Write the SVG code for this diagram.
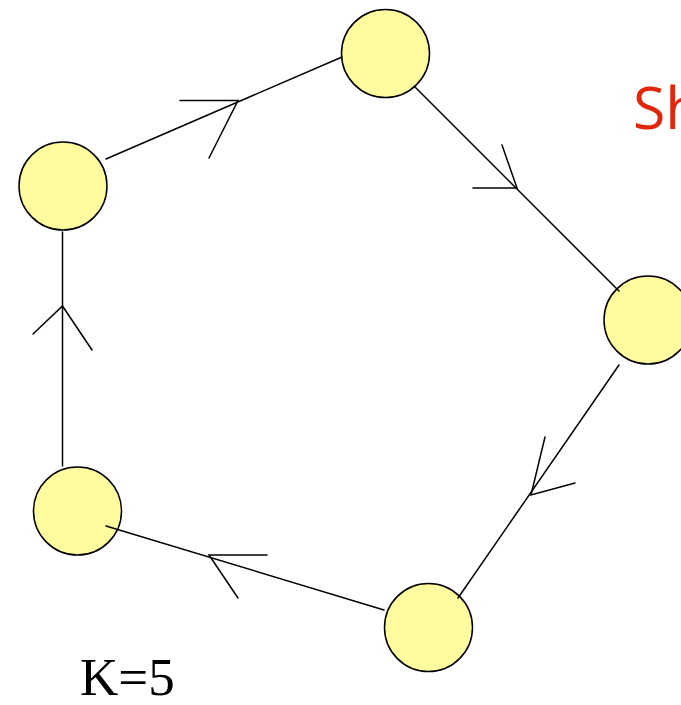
<svg xmlns="http://www.w3.org/2000/svg" width="681" height="705" viewBox="0 0 681 705">
  <style>
    .node { fill: #FFFB9F; stroke: #000; stroke-width: 1.5; }
    .edge { fill: none; stroke: #000; stroke-width: 1.5; stroke-linecap: round; stroke-linejoin: miter; }
    .title { font-family: "Open Sans", "Liberation Sans", sans-serif; font-size: 59px; fill: #E3260B; }
    .label { font-family: "Liberation Serif", "Times New Roman", serif; font-size: 53px; fill: #000; }
  </style>
  <rect width="681" height="705" fill="#fff"/>

  <!-- ring of five nodes -->
  <g id="node-top"><circle class="node" cx="385.5" cy="53.5" r="44"/></g>
  <g id="node-left"><circle class="node" cx="63" cy="186" r="44"/></g>
  <g id="node-right"><circle class="node" cx="648" cy="320" r="44"/></g>
  <g id="node-bottom-right"><circle class="node" cx="428.5" cy="627.5" r="44"/></g>
  <g id="node-bottom-left"><circle class="node" cx="77.5" cy="511" r="44"/></g>

  <!-- directed edges with open V heads -->
  <g id="connectors">
    <line class="edge" x1="106" y1="159" x2="342" y2="57"/>
    <polyline class="edge" points="180,100.5 238,100.5 209,158"/>

    <line class="edge" x1="415" y1="87" x2="619" y2="291"/>
    <polyline class="edge" points="473,188 517,188 502,145"/>

    <line class="edge" x1="619" y1="365" x2="458" y2="598"/>
    <polyline class="edge" points="545,437 531,495 575,483"/>

    <line class="edge" x1="384" y1="610" x2="106" y2="526"/>
    <polyline class="edge" points="267,555 209,555 238,598"/>

    <line class="edge" x1="62.5" y1="466" x2="62.5" y2="232"/>
    <polyline class="edge" points="33,334 62.5,306 92,350"/>
  </g>

  <text class="title" x="633" y="129">Sh</text>
  <text class="label" x="80" y="695">K=5</text>
</svg>
